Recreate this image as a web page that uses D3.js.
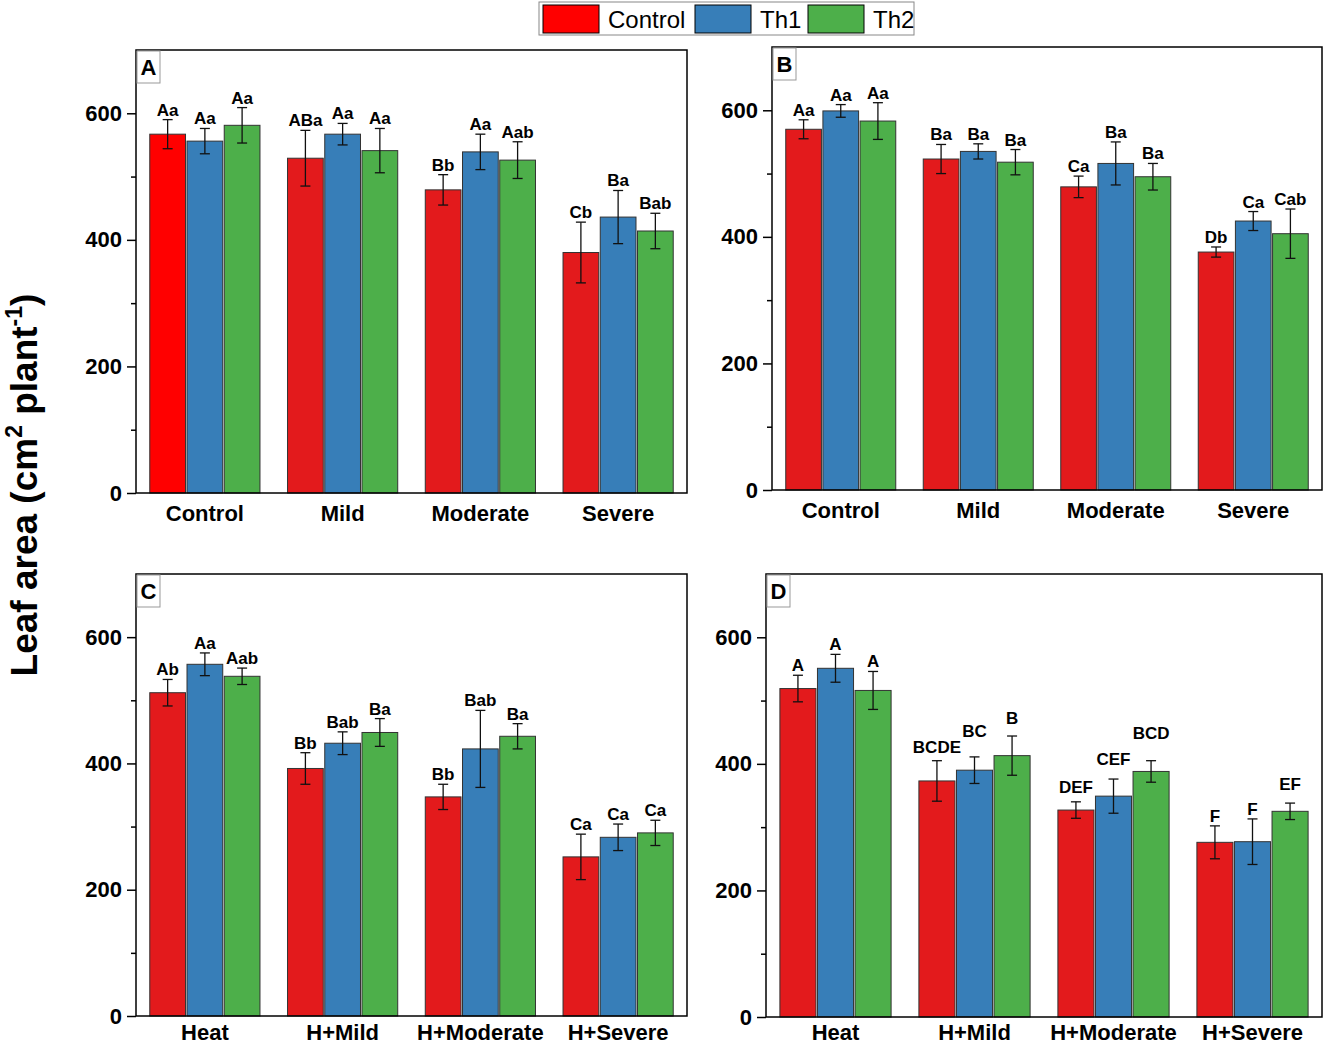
<!DOCTYPE html>
<html>
	<head>
		<meta charset="utf-8">
		<title>Leaf area</title>
		<script src="https://d3js.org/d3.v7.min.js"></script>
		<style>
			body { margin: 0; background: #fff; }
			text { font-family: "Liberation Sans", Arial, sans-serif; }
		</style>
	</head>
	<body>
		<script>
			// data
			var series = ["Control", "Th1", "Th2"];
			var groupsAB = ["Control", "Mild", "Moderate", "Severe"];
			var groupsCD = ["Heat", "H+Mild", "H+Moderate", "H+Severe"];
			var yTicks = [0, 200, 400, 600];
			var yMinor = [100, 300, 500];

			var meanA = [[567, 556, 581], [529, 567, 541], [479, 539, 526], [380, 436, 414]];
			var errA  = [[23, 20, 28], [44, 17, 35], [24, 28, 29], [48, 42, 28]];
			var letA  = [["Aa", "Aa", "Aa"], ["ABa", "Aa", "Aa"], ["Bb", "Aa", "Aab"], ["Cb", "Ba", "Bab"]];

			var meanB = [[570, 599, 583], [523, 535, 518], [479, 516, 495], [376, 425, 405]];
			var errB  = [[15, 10, 29], [23, 12, 20], [17, 34, 21], [8, 15, 39]];
			var letB  = [["Aa", "Aa", "Aa"], ["Ba", "Ba", "Ba"], ["Ca", "Ba", "Ba"], ["Db", "Ca", "Cab"]];

			var meanC = [[512, 557, 538], [392, 432, 449], [347, 423, 443], [252, 283, 290]];
			var errC  = [[21, 18, 13], [25, 18, 22], [20, 61, 20], [36, 21, 20]];
			var letC  = [["Ab", "Aa", "Aab"], ["Bb", "Bab", "Ba"], ["Bb", "Bab", "Ba"], ["Ca", "Ca", "Ca"]];

			var meanD = [[519, 551, 516], [373, 390, 413], [327, 349, 388], [276, 277, 325]];
			var errD  = [[21, 22, 30], [32, 21, 31], [13, 27, 17], [26, 36, 13]];
			var letD  = [["A", "A", "A"], ["BCDE", "BC", "B"], ["DEF", "CEF", "BCD"], ["F", "F", "EF"]];

			var colors = ["#e31a1c", "#377eb8", "#4daf4a"];
			var brightRed = "#ff0000";

			// extra lift (px) for the letters in panel D, placed by hand in the original
			var liftD = [[0, 0, 0], [4, 16, 8], [5, 10, 18], [0, 0, 9]];

			var w = 1325;
			var h = 1045;

			var panels = [
				{ name: "A", groups: groupsAB, mean: meanA, err: errA, lab: letA, left: 136, right: 687, top: 50, bottom: 493 },
				{ name: "B", groups: groupsAB, mean: meanB, err: errB, lab: letB, left: 772, right: 1322, top: 47, bottom: 490 },
				{ name: "C", groups: groupsCD, mean: meanC, err: errC, lab: letC, left: 136, right: 687, top: 574, bottom: 1016 },
				{ name: "D", groups: groupsCD, mean: meanD, err: errD, lab: letD, left: 766, right: 1322, top: 574, bottom: 1017, lift: liftD }
			];

			var svg = d3.select("body")
						.append("svg")
						.attr("width", w)
						.attr("height", h);

			panels.forEach(function(p) {
				var g = svg.append("g");

				var yScale = d3.scaleLinear()
					.domain([0, 700])
					.range([p.bottom, p.top]);

				var xScale = d3.scaleBand()
					.domain(p.groups)
					.range([p.left, p.right])
					.padding(0);

				var bw = xScale.bandwidth();
				var xInner = d3.scaleBand()
					.domain(series)
					.range([bw * 0.1, bw * 0.9])
					.paddingInner(0.04);

				// flatten for binding
				var rows = [];
				p.groups.forEach(function(grp, i) {
					series.forEach(function(s, j) {
						rows.push({
							grp: grp, s: s, j: j,
							v: p.mean[i][j], e: p.err[i][j], t: p.lab[i][j],
							lift: p.lift ? p.lift[i][j] : 0,
							fill: (p.name == "A" && i == 0 && j == 0) ? brightRed : colors[j]
						});
					});
				});

				g.selectAll("rect.bar")
					.data(rows)
					.enter()
					.append("rect")
					.attr("class", "bar")
					.attr("x", function(d) { return xScale(d.grp) + xInner(d.s); })
					.attr("y", function(d) { return yScale(d.v); })
					.attr("width", xInner.bandwidth())
					.attr("height", function(d) { return yScale(0) - yScale(d.v); })
					.attr("fill", function(d) { return d.fill; })
					.attr("stroke", "#333")
					.attr("stroke-width", 1);

				var eb = g.selectAll("g.err")
					.data(rows)
					.enter()
					.append("g")
					.attr("class", "err")
					.attr("stroke", "#111")
					.attr("stroke-width", 1.3);

				function cx(d) { return xScale(d.grp) + xInner(d.s) + xInner.bandwidth() / 2; }

				eb.append("line")
					.attr("x1", cx).attr("x2", cx)
					.attr("y1", function(d) { return yScale(d.v + d.e); })
					.attr("y2", function(d) { return yScale(d.v - d.e); });
				eb.append("line")
					.attr("x1", function(d) { return cx(d) - 5; })
					.attr("x2", function(d) { return cx(d) + 5; })
					.attr("y1", function(d) { return yScale(d.v + d.e); })
					.attr("y2", function(d) { return yScale(d.v + d.e); });
				eb.append("line")
					.attr("x1", function(d) { return cx(d) - 5; })
					.attr("x2", function(d) { return cx(d) + 5; })
					.attr("y1", function(d) { return yScale(d.v - d.e); })
					.attr("y2", function(d) { return yScale(d.v - d.e); });

				g.selectAll("text.sig")
					.data(rows)
					.enter()
					.append("text")
					.attr("class", "sig")
					.attr("x", cx)
					.attr("y", function(d) { return yScale(d.v + d.e) - 4 - d.lift; })
					.attr("text-anchor", "middle")
					.attr("font-size", 17)
					.attr("font-weight", "bold")
					.text(function(d) { return d.t; });

				// frame
				g.append("rect")
					.attr("x", p.left)
					.attr("y", p.top)
					.attr("width", p.right - p.left)
					.attr("height", p.bottom - p.top)
					.attr("fill", "none")
					.attr("stroke", "#000")
					.attr("stroke-width", 1.5);

				// y axis
				var yAxis = d3.axisLeft(yScale)
					.tickValues(yTicks)
					.tickSize(9)
					.tickPadding(5)
					.tickFormat(d3.format("d"));
				var ya = g.append("g")
					.attr("transform", "translate(" + p.left + ",0)")
					.call(yAxis);
				ya.select(".domain").remove();
				ya.selectAll("line").attr("stroke-width", 1.5);
				ya.selectAll("text")
					.attr("font-family", "Liberation Sans, Arial, sans-serif")
					.attr("font-size", 22)
					.attr("font-weight", "bold")
					.attr("fill", "#000");

				var yMinorAxis = d3.axisLeft(yScale)
					.tickValues(yMinor)
					.tickSize(5)
					.tickFormat("");
				var ym = g.append("g")
					.attr("transform", "translate(" + p.left + ",0)")
					.call(yMinorAxis);
				ym.select(".domain").remove();
				ym.selectAll("line").attr("stroke-width", 1.5);

				// x labels (kept inside the page at the bottom)
				g.selectAll("text.cat")
					.data(p.groups)
					.enter()
					.append("text")
					.attr("class", "cat")
					.attr("x", function(d) { return xScale(d) + bw / 2; })
					.attr("y", Math.min(p.bottom + 28, h - 5))
					.attr("text-anchor", "middle")
					.attr("font-size", 22)
					.attr("font-weight", "bold")
					.text(function(d) { return d; });

				// panel letter box
				g.append("rect")
					.attr("x", p.left + 1)
					.attr("y", p.top + 1)
					.attr("width", 23)
					.attr("height", 32)
					.attr("fill", "#fff")
					.attr("stroke", "#999")
					.attr("stroke-width", 1);
				g.append("text")
					.attr("x", p.left + 12.5)
					.attr("y", p.top + 25)
					.attr("text-anchor", "middle")
					.attr("font-size", 22)
					.attr("font-weight", "bold")
					.text(p.name);
			});

			// y title
			var yt = svg.append("text")
				.attr("transform", "translate(37,485) rotate(-90)")
				.attr("text-anchor", "middle")
				.attr("font-size", 37)
				.attr("font-weight", "bold");
			yt.append("tspan").text("Leaf area (cm");
			yt.append("tspan").attr("font-size", 23).attr("dy", -15).text("2");
			yt.append("tspan").attr("dy", 15).text(" plant");
			yt.append("tspan").attr("font-size", 23).attr("dy", -15).text("-1");
			yt.append("tspan").attr("dy", 15).text(")");

			// legend
			var lg = svg.append("g");
			lg.append("rect")
				.attr("x", 539).attr("y", 2)
				.attr("width", 375).attr("height", 33)
				.attr("fill", "#fff")
				.attr("stroke", "#888")
				.attr("stroke-width", 1);
			var legX = [543, 695, 808];
			lg.selectAll("rect.sw")
				.data(series)
				.enter()
				.append("rect")
				.attr("class", "sw")
				.attr("x", function(d, i) { return legX[i]; })
				.attr("y", 5)
				.attr("width", 56)
				.attr("height", 28)
				.attr("fill", function(d, i) { return i == 0 ? brightRed : colors[i]; })
				.attr("stroke", "#000")
				.attr("stroke-width", 1);
			lg.selectAll("text")
				.data(series)
				.enter()
				.append("text")
				.attr("x", function(d, i) { return legX[i] + 65; })
				.attr("y", 28)
				.attr("font-size", 24)
				.text(function(d) { return d; });
		</script>
	</body>
</html>
